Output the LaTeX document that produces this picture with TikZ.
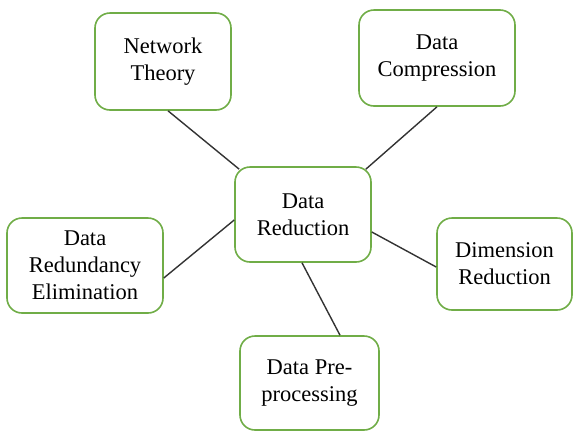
\documentclass[tikz,border=0pt]{standalone}
\usepackage{fontspec}
\setmainfont{Liberation Serif}
\newfontfamily\topicfont{Liberation Serif}
\usetikzlibrary{calc}
\definecolor{boxgreen}{RGB}{112,173,71}

\begin{document}
\begin{tikzpicture}[
  x=1pt, y=-1pt,
  topic/.style={draw=boxgreen, line width=1.6pt, rounded corners=15pt,
                fill=white, align=center, inner sep=0pt,
                font=\topicfont\fontsize{22.5}{27}\selectfont},
  link/.style={draw=black!80, line width=1.4pt}
]
\useasboundingbox (0,0) rectangle (573,432);
\node[topic, minimum width=136pt, minimum height=97pt] (net) at (163,61.5)
  {Network\\Theory};
\node[topic, minimum width=156pt, minimum height=96pt] (comp) at (437,58)
  {Data\\Compression};
\node[topic, minimum width=136pt, minimum height=95pt] (red) at (303,214.5)
  {Data\\Reduction};
\node[topic, minimum width=156pt, minimum height=95pt] (elim) at (85,265.5)
  {Data\\Redundancy\\Elimination};
\node[topic, minimum width=135pt, minimum height=92pt] (dim) at (504.5,264)
  {Dimension\\Reduction};
\node[topic, minimum width=139pt, minimum height=94pt] (pre) at (309.5,383)
  {Data Pre-\\processing};
% spokes
\draw[link] ($(net.south)+(5,0)$) -- ($(red.north west)+(5,3)$);
\draw[link] (comp.south) -- ($(red.north east)+(-6,3)$);
\draw[link] ($(elim.east)+(0,12.5)$) -- ($(red.west)+(0,5.5)$);
\draw[link] ($(red.east)+(0,17.5)$) -- ($(dim.west)+(0,3)$);
\draw[link] ($(red.south)+(-1,0)$) -- ($(pre.north)+(30.5,0)$);
\end{tikzpicture}
\end{document}
